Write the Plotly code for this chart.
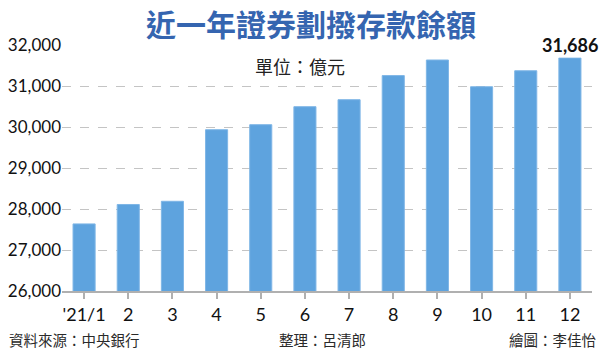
import plotly.graph_objects as go

months = ["'21/1", "2", "3", "4", "5", "6", "7", "8", "9", "10", "11", "12"]
values = [27636, 28110, 28188, 29934, 30056, 30495, 30666, 31254, 31634, 30982, 31372, 31686]
y_ticks = [26000, 27000, 28000, 29000, 30000, 31000, 32000]
y_tick_text = ["26,000", "27,000", "28,000", "29,000", "30,000", "31,000", "32,000"]

title_text = "近一年證券劃撥存款餘額"
unit_text = "單位：億元"
last_label = "31,686"
source_text = "資料來源：中央銀行"
editor_text = "整理：呂清郎"
artist_text = "繪圖：李佳怡"

num_font = "Lato, 'Noto Sans CJK TC', sans-serif"
cjk_font = "'Noto Sans CJK TC', sans-serif"

fig = go.Figure()
fig.add_trace(go.Bar(
    x=list(range(len(months))), y=values,
    marker=dict(color="#5ea3de", line=dict(color="#7fb6e6", width=1)),
    width=0.5,
    hoverinfo="skip",
))

fig.update_layout(
    width=600, height=353,
    margin=dict(l=62, r=8, t=45, b=62),
    paper_bgcolor="white", plot_bgcolor="white",
    showlegend=False,
    xaxis=dict(
        tickmode="array", tickvals=list(range(len(months))), ticktext=months,
        range=[-0.5, 11.5],
        showline=True, linecolor="#b0b0b0", linewidth=2,
        ticks="outside", ticklen=6, tickcolor="#b0b0b0", tickwidth=2,
        tickfont=dict(family=num_font, size=18, color="#111111"),
        showgrid=False, zeroline=False,
    ),
    yaxis=dict(
        range=[26000, 32000],
        tickmode="array", tickvals=y_ticks, ticktext=y_tick_text,
        tickfont=dict(family=num_font, size=17, color="#111111"),
        showgrid=True, gridcolor="#c4c4c4", griddash="dash", gridwidth=1,
        zeroline=False, showline=False, ticks="",
    ),
)

fig.add_annotation(
    text="<b>" + title_text + "</b>", xref="paper", yref="paper",
    x=(311 - 62) / 530, y=1 + (45 - 23) / 246, xanchor="center", yanchor="middle",
    showarrow=False, font=dict(family=cjk_font, size=30, color="#3565b0"),
)
fig.add_annotation(
    text=unit_text, xref="paper", yref="paper",
    x=(300 - 62) / 530, y=1 - (66 - 45) / 246, xanchor="center", yanchor="middle",
    showarrow=False, font=dict(family=cjk_font, size=18, color="#222222"),
)
fig.add_annotation(
    text="<b>" + last_label + "</b>", x=11, y=32000, xref="x", yref="y",
    xanchor="center", yanchor="middle", showarrow=False,
    bgcolor="white", font=dict(family=num_font, size=18, color="#111111"),
)
footer_y = -(339 - 291) / 246
fig.add_annotation(
    text=source_text, xref="paper", yref="paper",
    x=-55 / 530, y=footer_y, xanchor="left", yanchor="middle",
    showarrow=False, font=dict(family=cjk_font, size=14.5, color="#2a2a2a"),
)
fig.add_annotation(
    text=editor_text, xref="paper", yref="paper",
    x=(322 - 62) / 530, y=footer_y, xanchor="center", yanchor="middle",
    showarrow=False, font=dict(family=cjk_font, size=14.5, color="#2a2a2a"),
)
fig.add_annotation(
    text=artist_text, xref="paper", yref="paper",
    x=(598 - 62) / 530, y=footer_y, xanchor="right", yanchor="middle",
    showarrow=False, font=dict(family=cjk_font, size=14.5, color="#2a2a2a"),
)

fig.write_html("out.html")
